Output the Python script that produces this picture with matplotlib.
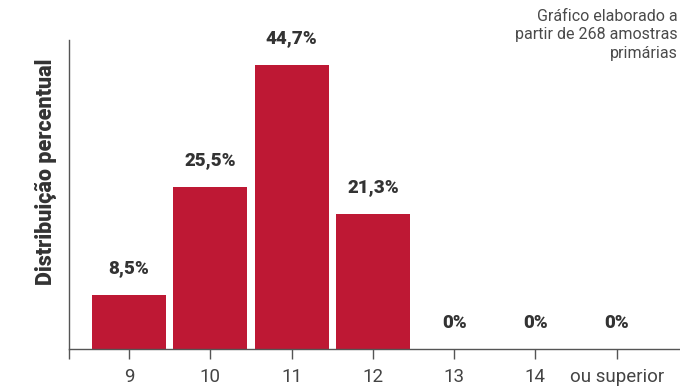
import matplotlib
matplotlib.use("Agg")
import matplotlib.pyplot as plt

categories = ["9", "10", "11", "12", "13", "14", "ou superior"]
values = [8.5, 25.5, 44.7, 21.3, 0, 0, 0]
value_labels = ["8,5%", "25,5%", "44,7%", "21,3%", "0%", "0%", "0%"]

plt.rcParams['font.family'] = ['Roboto', 'DejaVu Sans']

fig = plt.figure(figsize=(6.8, 3.91), dpi=100)
ax = fig.add_axes([0.1015, 0.1074, 0.8985, 0.7903])

x = list(range(len(categories)))
ax.bar(x, values, width=0.91, color="#BE1834", zorder=2)

for xi, v, lab in zip(x, values, value_labels):
    ax.annotate(lab, (xi, v), xytext=(0, 19), textcoords="offset points",
                ha="center", va="center", fontsize=13.5, fontweight="heavy", color="#333333")

ax.set_xlim(-0.74, 6.78)
ax.set_ylim(0, 48.6)
ax.set_xticks([-0.74] + x)
ax.set_xticklabels([""] + categories)
ax.set_yticks([])
ax.tick_params(axis="x", direction="out", length=7, width=1, color="#555555",
               labelsize=13.5, labelcolor="#444444", pad=7)
for s in ["top", "right"]:
    ax.spines[s].set_visible(False)
for s in ["left", "bottom"]:
    ax.spines[s].set_color("#555555")
    ax.spines[s].set_linewidth(1)

ax.set_ylabel("Distribuição percentual", fontsize=15.5, fontweight="heavy", color="#333333",
              va="center")
ax.yaxis.set_label_coords(-0.038, 0.573)

fig.text(0.997, 0.978, "Gráfico elaborado a\npartir de 268 amostras\nprimárias", ha="right", va="top",
         fontsize=11.5, fontweight="normal", color="#4a4a4a", linespacing=1.3)

fig.savefig("out.png", dpi=100)
